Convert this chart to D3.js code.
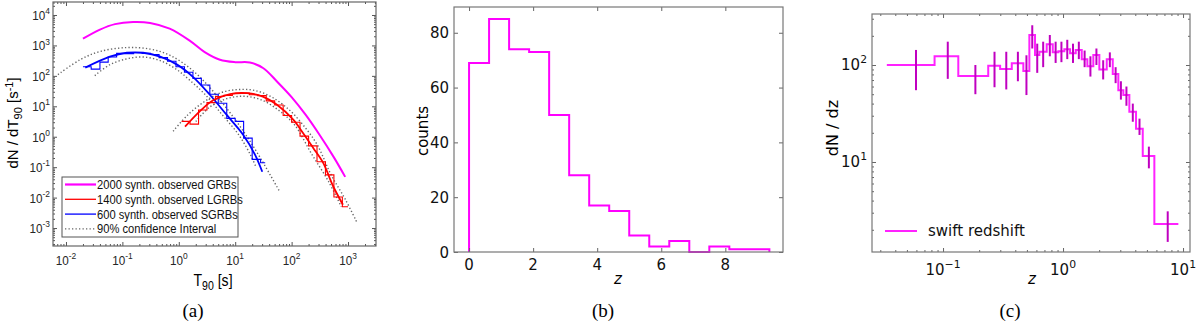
<!DOCTYPE html>
<html>
<head>
<meta charset="utf-8">
<script src="https://cdn.jsdelivr.net/npm/d3@7"></script>
<style>
  body { margin: 0; background: #fff; }
  svg { display: block; }
</style>
</head>
<body>
<svg width="1200" height="327"></svg>
<script>
// ---------- panel (a): T90 [s] vs dN/dT90 [s^-1]
const grbSmooth = [[0.02,1660],[0.04,3310],[0.074,5010],[0.155,5890],[0.31,5500],[0.69,3550],[1.58,1410],[2.88,603],[5.37,339],[10,282],[18.2,275],[31.6,178],[56,63],[100,20],[178,5.2],[316,1.12],[562,0.21],[891,0.048]];

const sgrbSmooth = [[0.022,186],[0.06,427],[0.12,575],[0.234,575],[0.468,427],[0.933,234],[1.78,93],[3.55,24],[7.08,5.2],[13.8,1.17],[22.4,0.26],[30.2,0.071]];
const sgrbEdges = [0.02,0.028,0.04,0.056,0.079,0.112,0.158,0.224,0.316,0.447,0.631,0.891,1.26,1.78,2.51,3.55,5.01,7.08,10,14.1,20,28.2,34];
const sgrbHist = [200,166,282,417,550,540,575,550,501,398,302,200,132,83,50,25,12.6,4.0,3.2,0.9,0.18,0.14];
const sgrbUpper = [[0.0072,110],[0.0178,339],[0.04,631],[0.12,851],[0.31,759],[0.69,479],[1.58,178],[3.16,52.5],[6.31,11.2],[12.6,2.0],[25.1,0.28],[61.7,0.0155]];
const sgrbLower = [[0.0324,102],[0.0603,234],[0.12,363],[0.234,417],[0.468,316],[0.933,158],[1.58,70.8],[2.95,24],[5.89,5.25],[11.5,1.17],[18.6,0.257],[23.4,0.1]];

const lgrbSmooth = [[1.29,2.14],[2.4,7.1],[4.07,15.8],[8.13,25.1],[16.2,26.9],[30.9,20.9],[55,11.2],[107,3.63],[158,1.35],[240,0.436],[363,0.138],[537,0.025],[813,0.0058]];
const lgrbEdges = [1.12,1.58,2.24,3.16,4.47,6.31,8.91,12.6,17.8,25.1,35.5,50.1,70.8,100,141,200,282,398,562,794,1000];
const lgrbHist = [3.2,2.6,7.6,13.2,20.9,22.9,26.3,27.5,24.0,22.4,15.1,11.0,5.0,3.0,1.05,0.5,0.15,0.056,0.0105,0.005];
const lgrbUpper = [[0.794,1.51],[1.41,5.0],[2.82,14.1],[5.62,28.2],[11.2,35.5],[22.4,33.1],[44.7,20],[89.1,7.9],[158,2.5],[282,0.56],[501,0.056],[891,0.0089],[1445,0.0015]];
const lgrbLower = [[2.0,3.16],[3.55,9.5],[7.08,17.8],[14.1,21.4],[28.2,16.6],[56.2,7.9],[112,2.5],[224,0.28],[447,0.035],[759,0.005]];

const legendA = ["2000 synth. observed GRBs", "1400 synth. observed LGRBs", "600 synth. observed SGRBs", "90% confidence Interval"];

// ---------- panel (b): redshift histogram
const zEdgesB = [0,0.625,1.25,1.875,2.5,3.125,3.75,4.375,5.0,5.625,6.25,6.875,7.5,8.125,8.75,9.375];
const zCounts = [69,85,74,73,50,28,17,15,6,2,4,0,2,1,1];
const xTicksB = [0,2,4,6,8];
const yTicksB = [0,20,40,60,80];

// ---------- panel (c): swift redshift dN/dz
const zEdgesC = [0.034,0.085,0.134,0.238,0.299,0.374,0.467,0.524,0.584,0.635,0.731,0.821,0.914,1.025,1.144,1.276,1.432,1.594,1.788,2.007,2.313,2.596,2.889,3.181,3.569,4.058,4.616,5.767,9.139];
const dndz = [100,123,77,98,91,104,87,204,127,137,164,135,139,145,132,143,115,97,127,90,115,81,55,49,33,22,11.5,2.29];
const dndzHi = [143,174,100,137,137,137,126,257,166,174,204,174,174,182,166,174,141,123,148,112,135,95,68,60,40,28,14.4,3.1];
const dndzLo = [55,72,50,59,56,68,49,148,83,95,123,105,107,115,105,115,95,76,100,71,95,65,44,38,26,19,8.6,1.5];

const svg = d3.select("svg");
const SANS_A = '"Liberation Sans", Arial, sans-serif';
const SANS = '"DejaVu Sans", sans-serif';
const SERIF = '"Liberation Serif", "Times New Roman", serif';

function logTicks(lo, hi) {
  const major = [], minor = [];
  for (let e = Math.floor(Math.log10(lo)); e <= Math.ceil(Math.log10(hi)); e++) {
    for (let m = 1; m < 10; m++) {
      const v = m * Math.pow(10, e);
      if (v < lo || v > hi) continue;
      (m === 1 ? major : minor).push(v);
    }
  }
  return { major, minor };
}

function inwardTicks(g, x, y, xv, yv, len, color) {
  const [x0, x1] = x.range(), [y0, y1] = y.range();
  const strip = s => { s.select(".domain").remove(); s.selectAll("line").attr("stroke", color); };
  g.append("g").attr("transform", `translate(0,${y0})`).call(d3.axisBottom(x).tickValues(xv).tickSize(-len).tickFormat("")).call(strip);
  g.append("g").attr("transform", `translate(0,${y1})`).call(d3.axisTop(x).tickValues(xv).tickSize(-len).tickFormat("")).call(strip);
  g.append("g").attr("transform", `translate(${x0},0)`).call(d3.axisLeft(y).tickValues(yv).tickSize(-len).tickFormat("")).call(strip);
  g.append("g").attr("transform", `translate(${x1},0)`).call(d3.axisRight(y).tickValues(yv).tickSize(-len).tickFormat("")).call(strip);
}

function frame(g, x, y, color) {
  const [x0, x1] = x.range(), [y0, y1] = y.range();
  g.append("rect").attr("x", x0).attr("y", y1).attr("width", x1 - x0).attr("height", y0 - y1)
    .attr("fill", "none").attr("stroke", color).attr("stroke-width", 1.2);
}

function label(g, x, y, str, o) {
  const t = g.append("text")
    .attr("transform", `translate(${x},${y}) rotate(${o.rot || 0}) scale(${o.sx || 1},1)`)
    .attr("text-anchor", o.anchor || "middle")
    .style("font-family", o.font).style("font-size", o.size + "px")
    .style("fill", o.color || "#000");
  if (o.italic) t.style("font-style", "italic");
  return t.text(str);
}

function powLabel(g, x, y, exp, o) {
  const t = label(g, x, y, "", o);
  t.append("tspan").text("10");
  t.append("tspan").attr("dy", -o.size * 0.45).style("font-size", (o.size * 0.72) + "px").text(exp);
  return t;
}

function stepPoints(edges, vals) {
  const pts = vals.map((v, i) => [edges[i], v]);
  pts.push([edges[edges.length - 1], vals[vals.length - 1]]);
  return pts;
}

// ================= panel (a)
{
  const g = svg.append("g");
  const x = d3.scaleLog().domain([Math.pow(10, -2.23), Math.pow(10, 3.496)]).range([53, 376]);
  const y = d3.scaleLog().domain([Math.pow(10, -3.59), Math.pow(10, 4.427)]).range([246, 2]);
  const xt = logTicks(x.domain()[0], x.domain()[1]);
  const yt = logTicks(y.domain()[0], y.domain()[1]);

  const smooth = d3.line().x(d => x(d[0])).y(d => y(d[1])).curve(d3.curveCatmullRom);
  const step = d3.line().x(d => x(d[0])).y(d => y(d[1])).curve(d3.curveStepAfter);

  const dotted = s => s.attr("fill", "none").attr("stroke", "#666").attr("stroke-width", 1.4).attr("stroke-dasharray", "1.3,2.2");
  [sgrbUpper, sgrbLower, lgrbUpper, lgrbLower].forEach(d => g.append("path").attr("d", smooth(d)).call(dotted));

  g.append("path").attr("d", step(stepPoints(sgrbEdges, sgrbHist))).attr("fill", "none").attr("stroke", "#0000ff").attr("stroke-width", 1.1);
  g.append("path").attr("d", step(stepPoints(lgrbEdges, lgrbHist))).attr("fill", "none").attr("stroke", "#ff0000").attr("stroke-width", 1.1);
  g.append("path").attr("d", smooth(sgrbSmooth)).attr("fill", "none").attr("stroke", "#0000ff").attr("stroke-width", 1.8);
  g.append("path").attr("d", smooth(lgrbSmooth)).attr("fill", "none").attr("stroke", "#ff0000").attr("stroke-width", 1.8);
  g.append("path").attr("d", smooth(grbSmooth)).attr("fill", "none").attr("stroke", "#ff00ff").attr("stroke-width", 2);

  inwardTicks(g, x, y, xt.major, yt.major, 4, "#555");
  inwardTicks(g, x, y, xt.minor, yt.minor, 2, "#555");
  frame(g, x, y, "#666");

  const lo = { font: SANS_A, size: 13, sx: 0.9, color: "#262626" };
  xt.major.forEach(v => powLabel(g, x(v), 265, String(Math.round(Math.log10(v))), lo));
  yt.major.forEach(v => powLabel(g, 50, y(v) + 5, String(Math.round(Math.log10(v))), { ...lo, anchor: "end" }));

  const xl = label(g, 213, 286, "", { font: SANS_A, size: 16, sx: 0.88 });
  xl.append("tspan").text("T");
  xl.append("tspan").attr("dy", 4).style("font-size", "12px").text("90");
  xl.append("tspan").attr("dy", -4).text(" [s]");

  const yl = label(g, 18, 123, "", { font: SANS_A, size: 15, rot: -90 });
  yl.append("tspan").text("dN / dT");
  yl.append("tspan").attr("dy", 4).style("font-size", "11px").text("90");
  yl.append("tspan").attr("dy", -4).text(" [s");
  yl.append("tspan").attr("dy", -5).style("font-size", "11px").text("-1");
  yl.append("tspan").attr("dy", 5).text("]");

  // legend
  const lg = g.append("g");
  lg.append("rect").attr("x", 62).attr("y", 177).attr("width", 176).attr("height", 60)
    .attr("fill", "#fff").attr("stroke", "#555").attr("stroke-width", 1);
  const legStyle = [
    s => s.attr("stroke", "#ff00ff").attr("stroke-width", 2.2),
    s => s.attr("stroke", "#ff0000").attr("stroke-width", 1.3),
    s => s.attr("stroke", "#0000ff").attr("stroke-width", 1.3),
    s => s.call(dotted)
  ];
  legendA.forEach((name, i) => {
    const ly = 184.5 + i * 14.8;
    lg.append("line").attr("x1", 65).attr("x2", 96).attr("y1", ly).attr("y2", ly).call(legStyle[i]);
    label(lg, 97, ly + 4.5, name, { font: SANS_A, size: 13, sx: 0.86, anchor: "start", color: "#111" });
  });

  label(g, 193, 317, "(a)", { font: SERIF, size: 19 });
}

// ================= panel (b)
{
  const g = svg.append("g");
  const x = d3.scaleLinear().domain([-0.47, 9.8]).range([454, 783]);
  const y = d3.scaleLinear().domain([0, 89.4]).range([252, 7]);

  const pts = [[zEdgesB[0], 0]].concat(stepPoints(zEdgesB, zCounts));
  pts.push([zEdgesB[zEdgesB.length - 1], 0]);
  const step = d3.line().x(d => x(d[0])).y(d => y(d[1])).curve(d3.curveStepAfter);
  g.append("path").attr("d", step(pts)).attr("fill", "none").attr("stroke", "#ff00ff").attr("stroke-width", 2);

  inwardTicks(g, x, y, xTicksB, yTicksB, 4, "#666");
  frame(g, x, y, "#777");

  const lo = { font: SANS, size: 15, color: "#111" };
  xTicksB.forEach(v => label(g, x(v), 270, String(v), lo));
  yTicksB.forEach(v => label(g, 449, y(v) + 5.5, String(v), { ...lo, anchor: "end" }));
  label(g, 428, 131, "counts", { font: SANS, size: 15, rot: -90 });
  label(g, 618, 284, "z", { font: SANS, size: 15, italic: true });
  label(g, 603, 317, "(b)", { font: SERIF, size: 19 });
}

// ================= panel (c)
{
  const g = svg.append("g");
  const x = d3.scaleLog().domain([Math.pow(10, -1.592), Math.pow(10, 1.058)]).range([872, 1190]);
  const y = d3.scaleLog().domain([Math.pow(10, 0.072), Math.pow(10, 2.526)]).range([252, 14]);
  const xt = logTicks(x.domain()[0], x.domain()[1]);
  const yt = logTicks(y.domain()[0], y.domain()[1]);

  const step = d3.line().x(d => x(d[0])).y(d => y(d[1])).curve(d3.curveStepAfter);
  g.append("path").attr("d", step(stepPoints(zEdgesC, dndz))).attr("fill", "none").attr("stroke", "#ff22ff").attr("stroke-width", 2);

  g.append("g").selectAll("line").data(dndz).join("line")
    .attr("x1", (d, i) => x((zEdgesC[i] + zEdgesC[i + 1]) / 2))
    .attr("x2", (d, i) => x((zEdgesC[i] + zEdgesC[i + 1]) / 2))
    .attr("y1", (d, i) => y(dndzLo[i]))
    .attr("y2", (d, i) => y(dndzHi[i]))
    .attr("stroke", "#c000c0").attr("stroke-width", 2);

  inwardTicks(g, x, y, xt.major, yt.major, 4, "#666");
  inwardTicks(g, x, y, xt.minor, yt.minor, 2, "#666");
  frame(g, x, y, "#777");

  const lo = { font: SANS, size: 15, color: "#111" };
  xt.major.forEach(v => powLabel(g, x(v), 275, String(Math.round(Math.log10(v))).replace("-", "\u2212"), lo));
  yt.major.forEach(v => powLabel(g, 867, y(v) + 5, String(Math.round(Math.log10(v))), { ...lo, anchor: "end" }));

  label(g, 838, 128, "dN / dz", { font: SANS, size: 16, rot: -90 });
  label(g, 1032, 284, "z", { font: SANS, size: 15, italic: true });
  label(g, 1010, 317, "(c)", { font: SERIF, size: 19 });

  g.append("line").attr("x1", 885).attr("x2", 917).attr("y1", 231).attr("y2", 231).attr("stroke", "#ff22ff").attr("stroke-width", 2);
  label(g, 928, 236, "swift redshift", { font: SANS, size: 15, anchor: "start", color: "#111" });
}
</script>
</body>
</html>
